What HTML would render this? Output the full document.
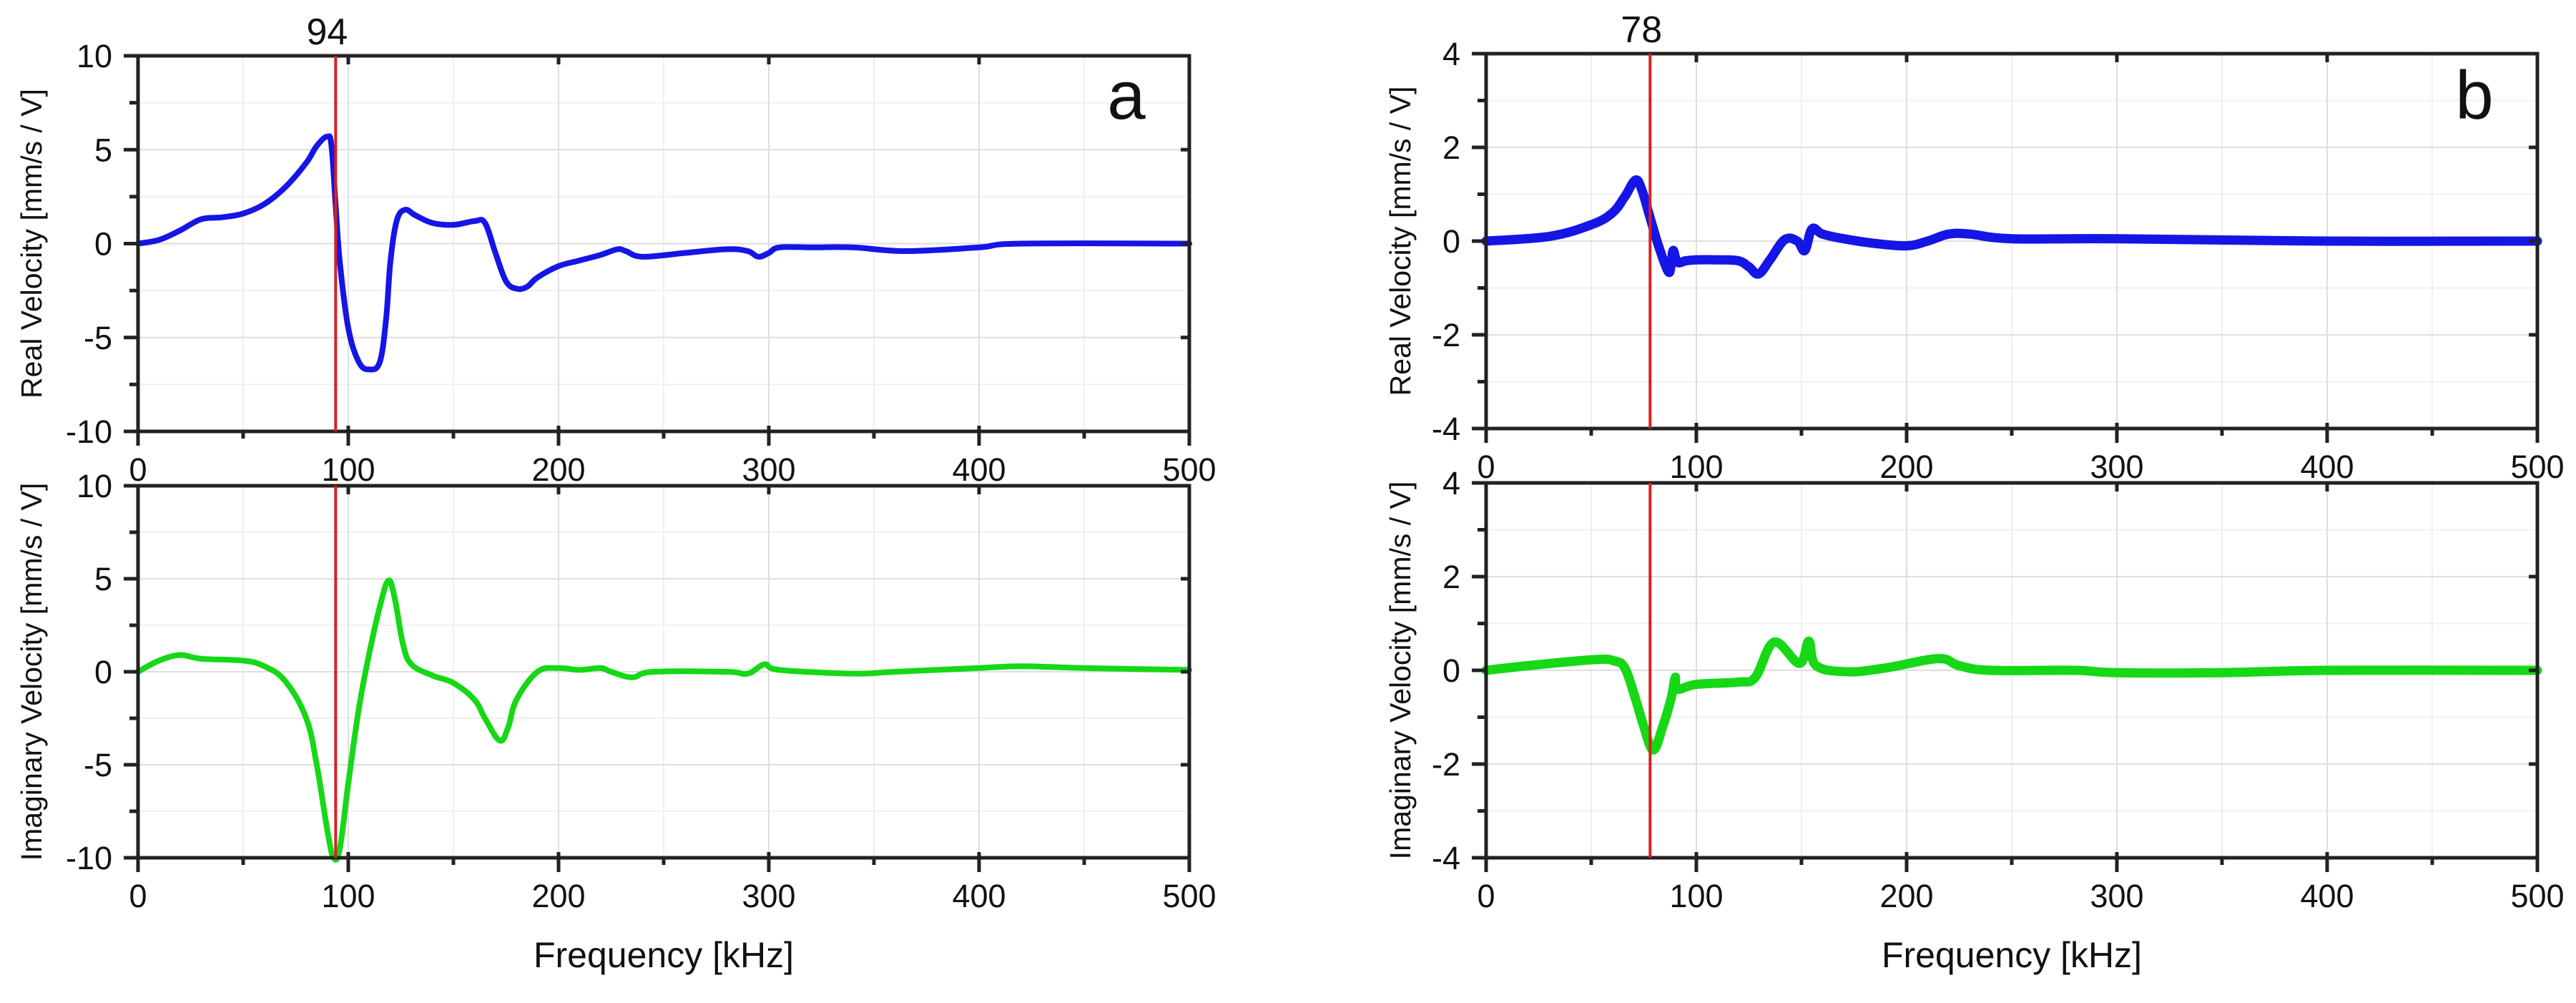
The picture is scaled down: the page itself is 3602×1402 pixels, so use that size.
<!DOCTYPE html>
<html><head><meta charset="utf-8">
<style>
html,body{margin:0;padding:0;background:#fff;}
svg text{font-family:"Liberation Sans",Arial,sans-serif;fill:#111;}
</style></head>
<body>
<svg id="chart" xmlns="http://www.w3.org/2000/svg" width="3602" height="1397" viewBox="0 0 3602 1397">
<rect width="3602" height="1397" fill="#fff"/>
</svg>
<script>
// Panel a, real velocity
const aRealF = [0,10,20,30,40,50,60,70,80,85,90,92,94,96,100,105,110,115,118,120,123,127,132,140,150,160,165,170,175,180,185,190,200,210,220,228,232,240,260,280,290,295,300,305,320,340,365,400,420,500];
const aRealV = [0,0.2,0.7,1.3,1.4,1.6,2.1,3,4.3,5.2,5.7,5.2,2,-1,-4.5,-6.3,-6.7,-6.3,-4,-1,1.2,1.8,1.5,1.1,1.0,1.2,1.1,-0.5,-2.0,-2.4,-2.3,-1.8,-1.2,-0.9,-0.6,-0.3,-0.4,-0.7,-0.5,-0.3,-0.4,-0.7,-0.5,-0.2,-0.2,-0.2,-0.4,-0.2,0,0];
// Panel a, imaginary velocity
const aImagF = [0,10,20,30,50,60,70,80,85,90,93,96,100,105,110,115,119,122,126,130,140,150,160,165,172,176,180,190,200,210,220,225,235,245,280,290,298,305,340,360,400,420,450,500];
const aImagV = [0,0.6,0.9,0.7,0.6,0.3,-0.5,-2.5,-5,-8.5,-10,-9.5,-6,-2,1,3.5,4.9,4,1.5,0.4,-0.2,-0.6,-1.5,-2.5,-3.7,-3,-1.5,0,0.2,0.1,0.2,0,-0.3,0,0,-0.1,0.4,0.1,-0.1,0,0.2,0.3,0.2,0.1];
// Panel b, real velocity
const bRealF = [0,30,50,60,66,71,74,78,82,86.6,88,89,91,95,100,110,120,125,129.6,135,142,148,151.6,155,160,170,185,200,210,220,230,250,300,400,500];
const bRealV = [0,0.1,0.35,0.6,0.95,1.3,1.1,0.5,-0.1,-0.65,-0.5,-0.2,-0.45,-0.42,-0.4,-0.4,-0.42,-0.55,-0.7,-0.4,0.03,0.0,-0.2,0.26,0.15,0.05,-0.05,-0.1,0,0.15,0.15,0.05,0.05,0,0];
// Panel b, imaginary velocity
const bImagF = [0,20,52,61,66,71,75,79.5,84,88,90,91,100,120,128,137,149,153.5,157,172,190,215,225,240,280,300,350,400,500];
const bImagV = [0,0.1,0.23,0.2,0.05,-0.6,-1.2,-1.7,-1.2,-0.6,-0.15,-0.4,-0.3,-0.25,-0.15,0.6,0.15,0.62,0.1,-0.03,0.05,0.25,0.1,0,0,-0.05,-0.05,0,0];
// Axis ticks
const xTicks = [0,100,200,300,400,500];
const aYTicks = [-10,-5,0,5,10];
const bYTicks = [-4,-2,0,2,4];
const markerA = [94];
const markerB = [78];

const svg = document.getElementById('chart');
const NS = 'http://www.w3.org/2000/svg';
function mk(tag, attrs, parent){
  const e = document.createElementNS(NS, tag);
  for (const k in attrs) e.setAttribute(k, attrs[k]);
  (parent||svg).appendChild(e);
  return e;
}
function smoothPath(pts){
  let d = 'M' + pts[0][0].toFixed(1) + ',' + pts[0][1].toFixed(1);
  for (let i = 0; i < pts.length - 1; i++) {
    const p0 = pts[Math.max(0, i-1)], p1 = pts[i], p2 = pts[i+1], p3 = pts[Math.min(pts.length-1, i+2)];
    const t = 0.18;
    const c1x = p1[0] + (p2[0]-p0[0])*t, c1y = p1[1] + (p2[1]-p0[1])*t;
    const c2x = p2[0] - (p3[0]-p1[0])*t, c2y = p2[1] - (p3[1]-p1[1])*t;
    d += 'C' + c1x.toFixed(1)+','+c1y.toFixed(1)+' '+c2x.toFixed(1)+','+c2y.toFixed(1)+' '+p2[0].toFixed(1)+','+p2[1].toFixed(1);
  }
  return d;
}

function panel(cfg){
  const {x0, x1, y0, y1, ymin, ymax, yTicks, fs, vs, color, sw, title, name} = cfg;
  const g = mk('g', {});
  
  
  const sx = f => x0 + (f - 0) / 500 * (x1 - x0);
  const sy = v => y1 - (v - ymin) / (ymax - ymin) * (y1 - y0);
  const step = yTicks[1] - yTicks[0];
  for (let f = 50; f < 500; f += 100) {
    const l = mk('line', {x1:sx(f), x2:sx(f), y1:y0, y2:y1, stroke:'#f0f0f0', 'stroke-width':2}, g);
    
    
  }
  for (let i = 0; i < yTicks.length - 1; i++) {
    const v = yTicks[i] + step / 2;
    const l = mk('line', {x1:x0, x2:x1, y1:sy(v), y2:sy(v), stroke:'#f0f0f0', 'stroke-width':2}, g);
    
    
  }
  xTicks.forEach(f => {
    const l = mk('line', {x1:sx(f), x2:sx(f), y1:y0, y2:y1, stroke:'#dedede', 'stroke-width':2}, g);
    
    
  });
  yTicks.forEach(v => {
    const l = mk('line', {x1:x0, x2:x1, y1:sy(v), y2:sy(v), stroke:'#dedede', 'stroke-width':2}, g);
    
    
  });
  const pts = fs.map((f, i) => [sx(f), sy(vs[i])]);
  const p = mk('path', {d:smoothPath(pts), fill:'none', stroke:color, 'stroke-width':sw, 'stroke-linejoin':'round', 'stroke-linecap':'round'}, g);
  
  
  const fr = mk('rect', {x:x0, y:y0, width:x1-x0, height:y1-y0, fill:'none', stroke:'#222', 'stroke-width':5}, g);
  
  
  xTicks.forEach(f => {
    const t = mk('line', {x1:sx(f), x2:sx(f), y1:y1-8, y2:y1+20, stroke:'#222', 'stroke-width':5}, g);
    
    
    const t2 = mk('line', {x1:sx(f), x2:sx(f), y1:y0, y2:y0+12, stroke:'#222', 'stroke-width':5}, g);
    
    
    const tx = mk('text', {x:sx(f), y:y1+69, 'font-size':45, 'text-anchor':'middle'}, g);
    tx.textContent = f;
    
    
  });
  for (let f = 50; f < 500; f += 100) {
    const t = mk('line', {x1:sx(f), x2:sx(f), y1:y1, y2:y1+10, stroke:'#222', 'stroke-width':5}, g);
    
    
  }
  yTicks.forEach(v => {
    const t = mk('line', {x1:x0-20, x2:x0, y1:sy(v), y2:sy(v), stroke:'#222', 'stroke-width':5}, g);
    
    
    const t2 = mk('line', {x1:x1-12, x2:x1, y1:sy(v), y2:sy(v), stroke:'#222', 'stroke-width':5}, g);
    
    
    const tx = mk('text', {x:x0-36, y:sy(v)+16, 'font-size':45, 'text-anchor':'end'}, g);
    tx.textContent = v;
    
    
  });
  for (let i = 0; i < yTicks.length - 1; i++) {
    const v = yTicks[i] + step / 2;
    const t = mk('line', {x1:x0-12, x2:x0, y1:sy(v), y2:sy(v), stroke:'#222', 'stroke-width':5}, g);
    
    
  }
  const cx = cfg.titleX, cy = (y0 + y1) / 2;
  const tt = mk('text', {x:cx, y:cy, 'font-size':41, 'text-anchor':'middle', transform:`rotate(-90 ${cx} ${cy})`}, g);
  tt.textContent = title;
  
  
  return sx;
}

function figure(o){
  const sxTop = panel({x0:o.x0, x1:o.x1, y0:o.top0, y1:o.top1, ymin:o.yTicks[0], ymax:o.yTicks[o.yTicks.length-1], yTicks:o.yTicks, fs:o.rf, vs:o.rv, color:'#1515e6', sw:o.sw, title:'Real Velocity [mm/s / V]', name:o.id+'-real-panel', titleX:o.titleX});
  panel({x0:o.x0, x1:o.x1, y0:o.bot0, y1:o.bot1, ymin:o.yTicks[0], ymax:o.yTicks[o.yTicks.length-1], yTicks:o.yTicks, fs:o.if, vs:o.iv, color:'#16d816', sw:o.sw, title:'Imaginary Velocity [mm/s / V]', name:o.id+'-imag-panel', titleX:o.titleX});
  o.marker.forEach(m => {
    const mx = sxTop(m);
    const l1 = mk('line', {x1:mx, x2:mx, y1:o.top0, y2:o.top1, stroke:'#d62020', 'stroke-width':4});
    
    
    const l2 = mk('line', {x1:mx, x2:mx, y1:o.bot0, y2:o.bot1, stroke:'#d62020', 'stroke-width':4});
    
    
    const t = mk('text', {x:mx-12, y:o.top0-16, 'font-size':52, 'text-anchor':'middle'});
    t.textContent = m;
    
    
  });
  const ft = mk('text', {x:(o.x0+o.x1)/2, y:1352, 'font-size':50, 'text-anchor':'middle'});
  ft.textContent = 'Frequency [kHz]';
  
  
  const pl = mk('text', {x:o.x1-88, y:166, 'font-size':96, 'text-anchor':'middle'});
  pl.textContent = o.id;
  
  
}

figure({id:'a', x0:193, x1:1663, top0:78, top1:603, bot0:679, bot1:1199, yTicks:aYTicks, rf:aRealF, rv:aRealV, if:aImagF, iv:aImagV, sw:8, marker:markerA, titleX:58});
figure({id:'b', x0:2078, x1:3548, top0:75, top1:599, bot0:675, bot1:1199, yTicks:bYTicks, rf:bRealF, rv:bRealV, if:bImagF, iv:bImagV, sw:13, marker:markerB, titleX:1972});
</script>
</body></html>
